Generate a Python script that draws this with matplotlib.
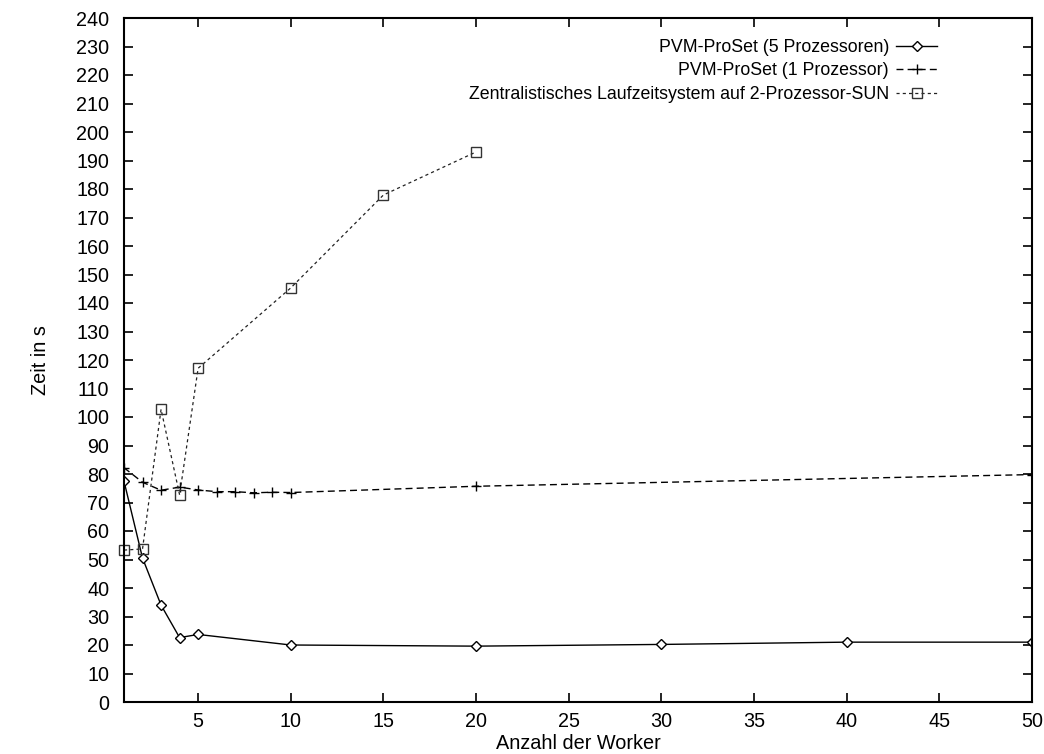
import matplotlib
matplotlib.use("Agg")
import matplotlib.pyplot as plt

plt.rcParams['font.family'] = ['Liberation Sans', 'DejaVu Sans']

x_pvm5 = [1, 2, 3, 4, 5, 10, 20, 30, 40, 50]
y_pvm5 = [77.5, 50.5, 34.0, 22.6, 23.7, 20.0, 19.6, 20.2, 21.0, 21.0]

x_pvm1 = [1, 2, 3, 4, 5, 6, 7, 8, 9, 10, 20, 50]
y_pvm1 = [82.2, 77.1, 74.3, 75.4, 74.4, 73.8, 73.8, 73.4, 73.6, 73.5, 75.7, 79.8]

x_zent = [1, 2, 3, 4, 5, 10, 15, 20]
y_zent = [53.3, 53.7, 102.7, 72.7, 117.1, 145.3, 177.9, 193.0]

labels = ["PVM-ProSet (5 Prozessoren)", "PVM-ProSet (1 Prozessor)",
          "Zentralistisches Laufzeitsystem auf 2-Prozessor-SUN"]
x_ticks = [5, 10, 15, 20, 25, 30, 35, 40, 45, 50]
y_ticks = list(range(0, 241, 10))

fig = plt.figure(figsize=(10.44, 7.54), dpi=100)
ax = fig.add_axes([124/1044, 52/754, 908/1044, 684/754])

ax.plot(x_pvm5, y_pvm5, color='black', lw=1.0, ls='-', marker='D',
        markersize=5.5, markerfacecolor='white', markeredgecolor='black',
        markeredgewidth=1.0, label=labels[0])
ax.plot(x_pvm1, y_pvm1, color='black', lw=1.0, ls=(0, (5, 3)), marker='+',
        markersize=7.5, markeredgewidth=1.0, label=labels[1])
ax.plot(x_zent, y_zent, color='#222222', lw=0.9, ls=(0, (2.5, 2.5)), marker='s',
        markersize=7, markerfacecolor='none', markeredgecolor='#333333',
        markeredgewidth=1.0, label=labels[2], clip_on=False)

ax.set_xlim(1, 50)
ax.set_ylim(0, 240)
ax.set_xticks(x_ticks)
ax.set_yticks(y_ticks)
ax.tick_params(direction='in', length=6.5, width=1.2, top=True, right=True,
               labelsize=14.2)
ax.tick_params(axis='y', pad=10.5)
ax.tick_params(axis='x', pad=7)
for s in ax.spines.values():
    s.set_linewidth(1.5)

ax.set_xlabel("Anzahl der Worker", fontsize=14.3, labelpad=2.5)
ax.set_ylabel("Zeit in s", fontsize=14.3, labelpad=19)

leg = ax.legend(loc='upper right', bbox_to_anchor=(937/1044, 1 - 39/754),
                bbox_transform=fig.transFigure, frameon=False, markerfirst=False,
                fontsize=12.8, handlelength=2.3, handletextpad=0.4,
                labelspacing=0.36, borderpad=0, borderaxespad=0)

fig.savefig("out.png", dpi=100)
